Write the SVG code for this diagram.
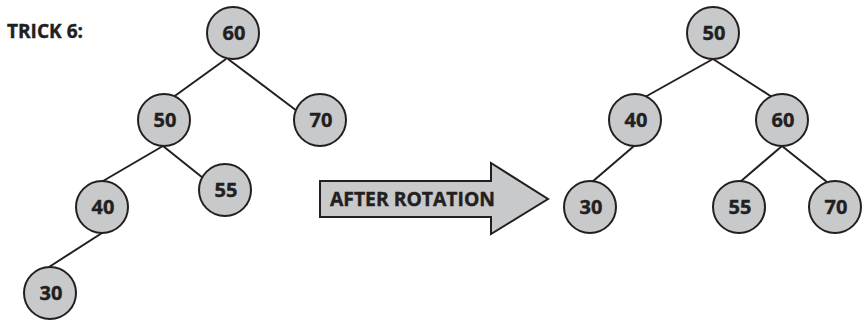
<svg xmlns="http://www.w3.org/2000/svg" width="866" height="321" viewBox="0 0 866 321">
<style>
.n circle{fill:#c8c9cb;stroke:#231f20;stroke-width:2}
.n text,.t{font-family:"Open Sans","Liberation Sans",sans-serif;font-weight:bold;font-size:20px;fill:#231f20;stroke:#231f20;stroke-width:0.4;text-anchor:middle}
.e line{stroke:#231f20;stroke-width:2}
</style>
<rect width="866" height="321" fill="#fff"/>
<text class="t" x="7" y="38" style="text-anchor:start;font-size:19px" textLength="76" lengthAdjust="spacingAndGlyphs">TRICK 6:</text>
<g id="connectors" class="e">
<line x1="226" y1="59" x2="172" y2="98"/>
<line x1="228" y1="59" x2="297" y2="111"/>
<line x1="163" y1="146" x2="103" y2="181"/>
<line x1="163" y1="146" x2="203" y2="178"/>
<line x1="102" y1="233" x2="49" y2="267"/>
<line x1="713" y1="59" x2="645" y2="97"/>
<line x1="713" y1="59" x2="772" y2="97"/>
<line x1="634" y1="146" x2="592" y2="182"/>
<line x1="782" y1="146" x2="740" y2="182"/>
<line x1="782" y1="146" x2="827" y2="182"/>
</g>
<g id="arrow">
<path d="M320,181 L491,181 L491,163 L548,199 L491,234 L491,217 L320,217 Z" fill="#c8c9cb" stroke="#231f20" stroke-width="2"/>
<text class="t" x="330" y="206" style="text-anchor:start;font-size:19px" textLength="165" lengthAdjust="spacingAndGlyphs">AFTER ROTATION</text>
</g>
<g id="L60" class="n"><circle cx="233" cy="33" r="26"/><text x="234" y="40">60</text></g>
<g id="L50" class="n"><circle cx="164" cy="120" r="26"/><text x="165" y="127">50</text></g>
<g id="L70" class="n"><circle cx="320" cy="120" r="26"/><text x="321" y="127">70</text></g>
<g id="L55" class="n"><circle cx="225" cy="190" r="26"/><text x="226" y="197">55</text></g>
<g id="L40" class="n"><circle cx="102" cy="207" r="26"/><text x="103" y="214">40</text></g>
<g id="L30" class="n"><circle cx="50" cy="293" r="26"/><text x="51" y="300">30</text></g>
<g id="R50" class="n"><circle cx="713" cy="33" r="26"/><text x="714" y="40">50</text></g>
<g id="R40" class="n"><circle cx="635" cy="120" r="26"/><text x="636" y="127">40</text></g>
<g id="R60" class="n"><circle cx="782" cy="120" r="26"/><text x="783" y="127">60</text></g>
<g id="R30" class="n"><circle cx="590" cy="207" r="26"/><text x="591" y="214">30</text></g>
<g id="R55" class="n"><circle cx="739" cy="207" r="26"/><text x="740" y="214">55</text></g>
<g id="R70" class="n"><circle cx="835" cy="207" r="26"/><text x="836" y="214">70</text></g>
</svg>
